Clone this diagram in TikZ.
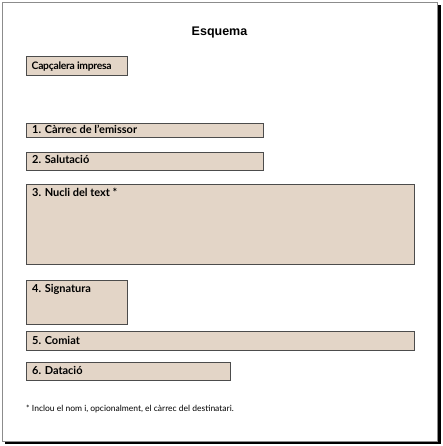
\documentclass[tikz,border=0pt]{standalone}
\usepackage{fontspec}
\setmainfont{Liberation Sans}
\newfontfamily\boxfont{Lato}
\newfontfamily\boxfonttight{Lato}[LetterSpace=-2.5]
\begin{document}
\begin{tikzpicture}[x=1pt,y=-1pt,
  sect/.style={draw=black!70,line width=0.9pt,fill=boxfill},
  lab/.style={anchor=base west,font=\boxfont\bfseries\fontsize{11}{12}\selectfont,inner sep=0pt}]
\definecolor{boxfill}{HTML}{E3D5C7}
\useasboundingbox (0,0) rectangle (442,446);
% frame with shadow
\fill[black] (5,5) rectangle (440.5,443.5);
\draw[fill=white,draw=black!45,line width=1pt] (2.5,2.5) rectangle (437.5,441);
\node[font=\bfseries\fontsize{12.5}{14}\selectfont] (title) at (219.5,33) {Esquema};
% boxes
\draw[sect] (26,56) rectangle (127.5,75) coordinate (b0);
\node[lab,font=\boxfonttight\bfseries\fontsize{10.3}{11}\selectfont] (t0) at (31.5,69.3) {Capçalera impresa};
\draw[sect] (26,123.5) rectangle (263,137.5);
\node[lab] (t1) at (32,133.5) {1. Càrrec de l’emissor};
\draw[sect] (26,152) rectangle (263,170.5);
\node[lab] (t2) at (32,164) {2. Salutació};
\draw[sect] (26,184) rectangle (414,264);
\node[lab] (t3) at (32,196.5) {3. Nucli del text *};
\draw[sect] (26,280.5) rectangle (127.5,324);
\node[lab] (t4) at (32,292.3) {4. Signatura};
\draw[sect] (26,331) rectangle (414,350.5);
\node[lab] (t5) at (32,344) {5. Comiat};
\draw[sect] (26,362) rectangle (230.5,380.5);
\node[lab] (t6) at (32,374.5) {6. Datació};
\node[anchor=base west,font=\boxfont\fontsize{8.5}{9}\selectfont,inner sep=0pt] (note) at (26,411) {* Inclou el nom i, opcionalment, el càrrec del destinatari.};
\end{tikzpicture}
\end{document}
